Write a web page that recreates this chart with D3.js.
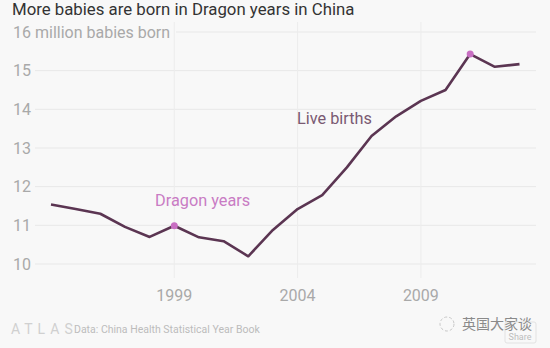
<!DOCTYPE html>
<html><head><meta charset="utf-8">
<script src="https://cdn.jsdelivr.net/npm/d3@7"></script>
<style>
html,body{margin:0;padding:0;background:#f8f8f8;}
svg{display:block;}
</style></head>
<body>
<script>
const years = [1994,1995,1996,1997,1998,1999,2000,2001,2002,2003,2004,2005,2006,2007,2008,2009,2010,2011,2012,2013];
const births = [11.54,11.42,11.30,10.96,10.70,10.99,10.69,10.59,10.20,10.88,11.42,11.78,12.50,13.31,13.82,14.22,14.50,15.43,15.10,15.17];
const dragonYears = [1999,2011];
const yTicks = [10,11,12,13,14,15,16];
const xTicks = [1999,2004,2009];

const W = 550, H = 348;
const svg = d3.select("body").append("svg").attr("width", W).attr("height", H);
svg.append("rect").attr("width", W).attr("height", H).attr("fill", "#f8f8f8");

const x = d3.scaleLinear().domain([1994, 2013]).range([51, 519.5]);
const y = d3.scaleLinear().domain([10, 16]).range([264, 32]);
const font = "Roboto, 'Open Sans', 'Noto Sans', sans-serif";

// horizontal gridlines
svg.append("g").selectAll("line").data(yTicks).join("line")
  .attr("x1", d => d === 16 ? 176 : 35).attr("x2", 536)
  .attr("y1", d => y(d)).attr("y2", d => y(d))
  .attr("stroke", "#e8e8e8").attr("stroke-width", 1);
// vertical gridlines
svg.append("g").selectAll("line").data(xTicks).join("line")
  .attr("x1", d => x(d)).attr("x2", d => x(d))
  .attr("y1", 22).attr("y2", 278)
  .attr("stroke", "#ececec").attr("stroke-width", 1);

// y tick labels
svg.append("g").selectAll("text").data(yTicks).join("text")
  .attr("x", 13).attr("y", d => y(d) + 5.5)
  .attr("font-family", font).attr("font-size", 16).attr("fill", "#a9a9a9")
  .text(d => d === 16 ? "16 million babies born" : d);

// x tick labels
svg.append("g").selectAll("text").data(xTicks).join("text")
  .attr("x", d => x(d)).attr("y", 301).attr("text-anchor", "middle")
  .attr("font-family", font).attr("font-size", 16).attr("fill", "#a9a9a9")
  .text(d => d);

// line
const line = d3.line().x((d, i) => x(years[i])).y(d => y(d));
svg.append("path").datum(births).attr("d", line)
  .attr("fill", "none").attr("stroke", "#5b3552").attr("stroke-width", 2.6)
  .attr("stroke-linejoin", "round");

// dragon dots
svg.append("g").selectAll("circle").data(dragonYears).join("circle")
  .attr("cx", d => x(d)).attr("cy", d => y(births[years.indexOf(d)]))
  .attr("r", 3.5).attr("fill", "#c86ec2");

// annotations
svg.append("text").attr("x", 155).attr("y", 206)
  .attr("font-family", font).attr("font-size", 16.3).attr("fill", "#c97cc4")
  .text("Dragon years");
svg.append("text").attr("x", 297).attr("y", 124)
  .attr("font-family", font).attr("font-size", 16.3).attr("fill", "#7a5a72")
  .text("Live births");

// title
svg.append("text").attr("x", 12).attr("y", 14.5)
  .attr("font-family", font).attr("font-size", 16.8).attr("fill", "#333")
  .text("More babies are born in Dragon years in China");

// footer
svg.append("text").attr("x", 11).attr("y", 334)
  .attr("font-family", font).attr("font-size", 14).attr("fill", "#d0d0d0")
  .attr("letter-spacing", 5).text("ATLAS");
svg.append("text").attr("x", 74).attr("y", 333)
  .attr("font-family", font).attr("font-size", 10.5).attr("fill", "#bcbcbc")
  .text("Data: China Health Statistical Year Book");

// watermark
svg.append("rect").attr("x", 505).attr("y", 322).attr("width", 31).attr("height", 21)
  .attr("fill", "none").attr("stroke", "#e2e2e2").attr("rx", 2);
svg.append("text").attr("x", 520).attr("y", 340).attr("text-anchor", "middle")
  .attr("font-family", font).attr("font-size", 9).attr("fill", "#bdbdbd").text("Share");
svg.append("circle").attr("cx", 447).attr("cy", 324).attr("r", 7)
  .attr("fill", "none").attr("stroke", "#c8c8c8").attr("stroke-dasharray", "3,2");
svg.append("text").attr("x", 462).attr("y", 329)
  .attr("font-family", "'Noto Sans CJK SC', sans-serif").attr("font-size", 14).attr("fill", "#8a8a8a")
  .text("英国大家谈");
</script>
</body></html>
